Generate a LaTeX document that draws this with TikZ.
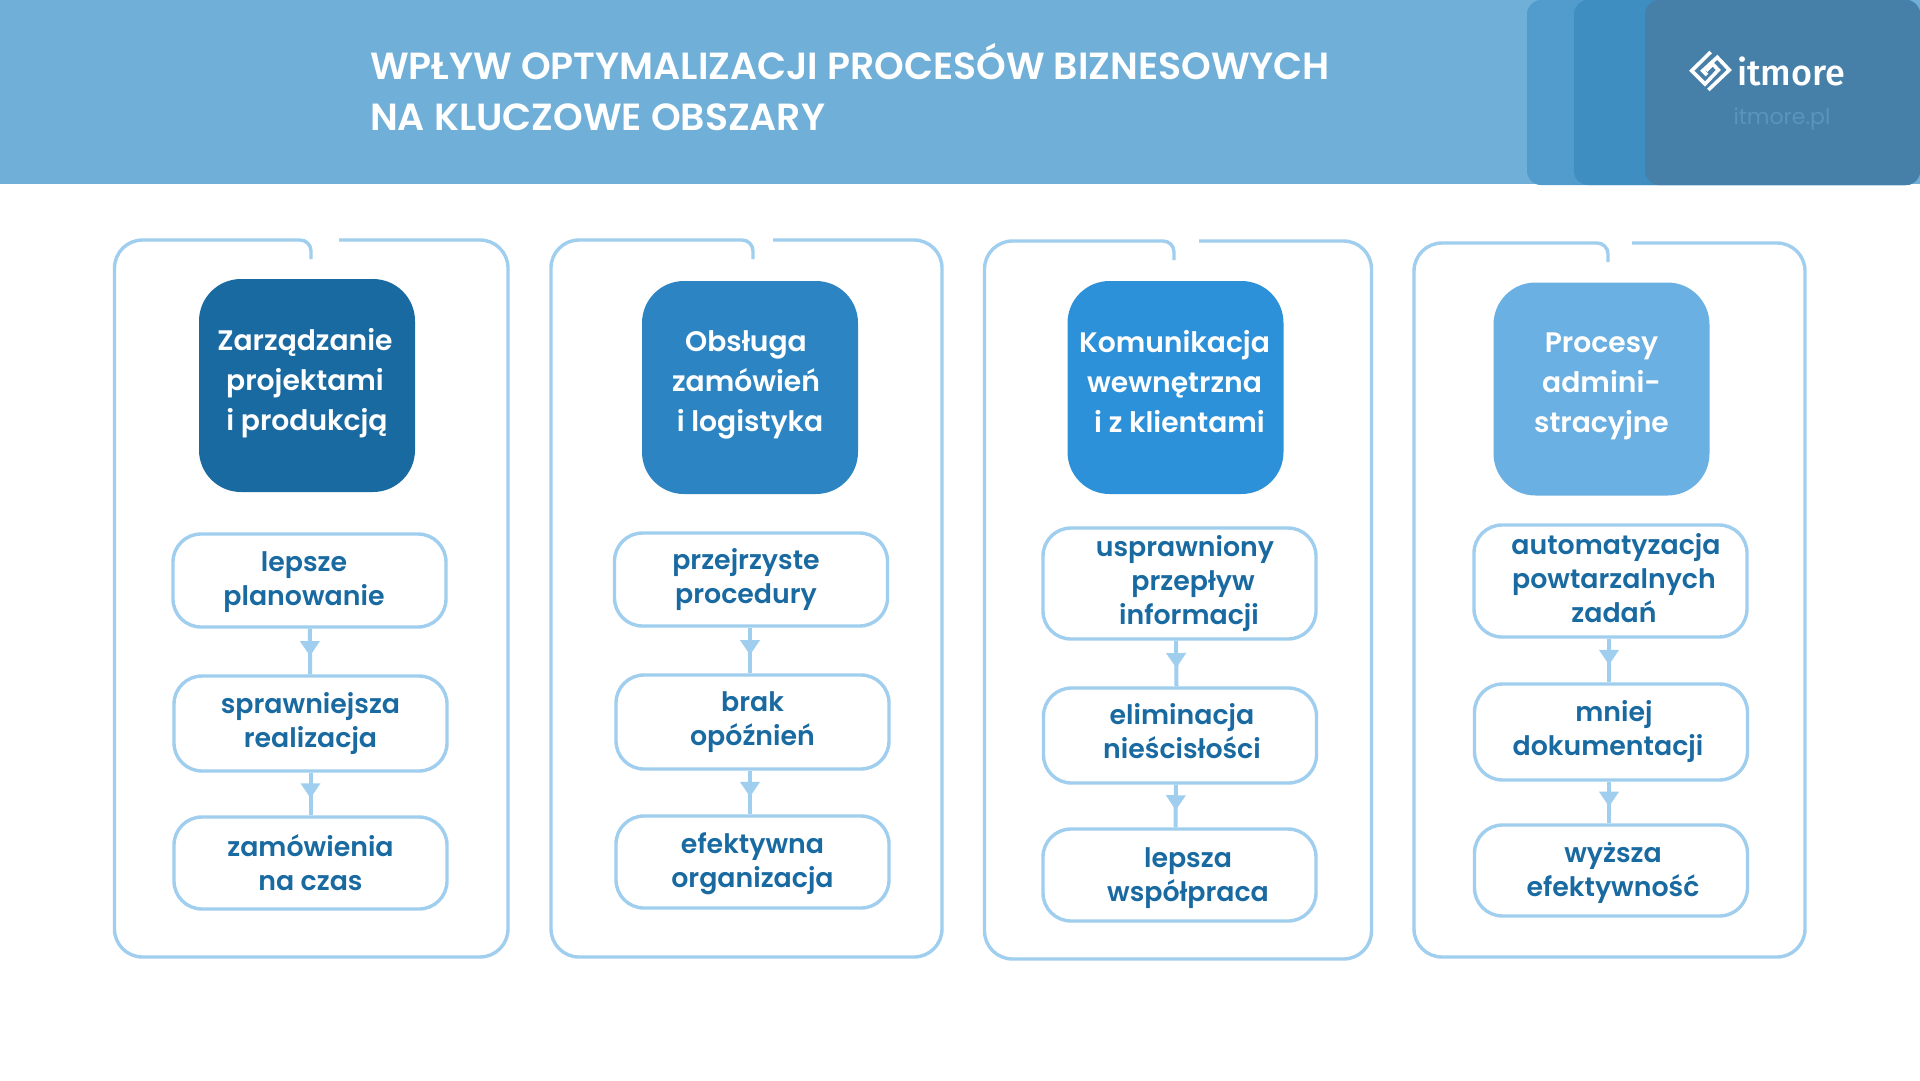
\documentclass[tikz,border=0pt]{standalone}
\usepackage{fontspec}
\setmainfont{Poppins}[BoldFont=* SemiBold]
\newfontfamily\logofont{Fira Sans}[UprightFont=* Medium]
\usetikzlibrary{arrows.meta}
\usetikzlibrary{decorations.markings}
\definecolor{headblue}{HTML}{70B0D8}
\definecolor{layerA}{HTML}{529CCD}
\definecolor{layerB}{HTML}{3E8EC1}
\definecolor{layerC}{HTML}{4680A9}
\definecolor{lineblue}{HTML}{A0CEEE}
\definecolor{textblue}{HTML}{1A6AA2}
\definecolor{siteblue}{HTML}{5A93BC}
\definecolor{headA}{HTML}{1A6AA2}
\definecolor{headB}{HTML}{2C85C2}
\definecolor{headC}{HTML}{2C91D8}
\definecolor{headD}{HTML}{6BB0E2}
\newcommand{\nudge}[1]{\hspace*{#1pt}}
\newcommand{\toph}[1]{\rule{0pt}{#1pt}}
\newcommand{\botd}[1]{\rule[-#1pt]{0pt}{#1pt}}

\begin{document}
\begin{tikzpicture}[x=1pt,y=-1pt]
\tikzstyle{panel} = [draw=lineblue, line width=3.4pt]
\tikzstyle{headbox} = [rectangle, rounded corners=42pt, minimum width=216pt, minimum height=213pt, inner sep=0pt, align=center, text=white, font=\fontsize{28.2}{40}\bfseries\selectfont]
\tikzstyle{itembox} = [rectangle, draw=lineblue, line width=3.4pt, rounded corners=28pt, minimum width=273pt, inner sep=0pt, align=center, text=textblue, font=\fontsize{26.8}{34}\bfseries\selectfont]
\tikzstyle{flow} = [draw=lineblue, line width=4pt, postaction={decorate}, decoration={markings, mark=at position 0.6 with {\arrow[lineblue]{Triangle[width=19pt,length=15pt]}}}]
\tikzstyle{layer} = [rectangle, rounded corners=14pt, minimum height=185pt, inner sep=0pt]

\useasboundingbox (0,0) rectangle (1920,1080);
\fill[white] (0,0) rectangle (1920,1080);
\fill[headblue] (0,0) rectangle (1920,184);

\node[layer, fill=layerA, minimum width=393pt] (layerone) at (1723.5,92.5) {};
\node[layer, fill=layerB, minimum width=346pt] (layertwo) at (1747,92.5) {};
\node[layer, fill=layerC, minimum width=275pt] (layerthree) at (1782.5,92.5) {};

\node[anchor=west, align=left, inner sep=0pt, text=white, font=\fontsize{37.8}{50.5}\bfseries\selectfont] (title) at (370,87) {WPŁYW OPTYMALIZACJI PROCESÓW BIZNESOWYCH\\NA KLUCZOWE OBSZARY};

\draw[white, line width=3.6pt] (1710.7,52) -- (1691.7,70.7) -- (1705,84) -- (1718.3,70) -- (1712.7,64) -- (1706,70.7);
\draw[white, line width=3.6pt] (1708.3,90) -- (1729.3,70) -- (1717.3,57.3) -- (1702.7,70.7) -- (1707,75);
\node[anchor=west, inner sep=0pt, text=white, font=\logofont\fontsize{36}{36}\selectfont] (logo) at (1737,71) {itmore};
\node[text=siteblue, font=\fontsize{22}{22}\selectfont] (site) at (1782,119) {itmore.pl};

\foreach \xl/\xr/\yt/\yb/\gl/\gr in {114.5/508/240/957/311/339, 551/942/240/957/753/773, 984.5/1371.5/241/959/1174/1199, 1414/1805/243/957/1608/1632}
  \draw[panel] (\gl,\yt+19) [rounded corners=11pt] -- (\gl,\yt) [rounded corners=28pt] -- (\xl,\yt) -- (\xl,\yb) -- (\xr,\yb) -- (\xr,\yt) -- (\gr,\yt);

\node[headbox, fill=headA] (zarzadzanie) at (307,385.5) {\nudge{-4}Zarządzanie\\\nudge{-4}projektami\\i produkcją\botd{13}};
\node[headbox, fill=headB] (obsluga) at (750,387.5) {\nudge{-8}Obsługa\\\nudge{-8}zamówień\\i logistyka\botd{13}};
\node[headbox, fill=headC] (komunikacja) at (1175.5,387.5) {\nudge{-2}Komunikacja\\\nudge{-2}wewnętrzna\\\nudge{8}i z klientami\botd{13}};
\node[headbox, fill=headD] (procesy) at (1601.5,389) {Procesy\\admini-\\stracyjne\botd{13}};

\node[itembox, minimum height=93pt] (planowanie) at (309.5,580.5) {\toph{24}\nudge{-11}lepsze\\\nudge{-11}planowanie};
\node[itembox, minimum height=95pt] (realizacja) at (310.5,723.5) {sprawniejsza\\realizacja\botd{8}};
\node[itembox, minimum height=92pt] (naczas) at (310.5,863) {zamówienia\\na czas};

\node[itembox, minimum height=93pt] (procedury) at (751,579.5) {\nudge{-10}przejrzyste\\\nudge{-10}procedury};
\node[itembox, minimum height=94pt] (opoznien) at (752.5,722) {brak\\opóźnień};
\node[itembox, minimum height=92pt] (organizacja) at (752.5,862) {\toph{25}efektywna\\organizacja};

\node[itembox, minimum height=111pt] (przeplyw) at (1179.5,583.5) {\nudge{11}usprawniony\\\nudge{27}przepływ\\\nudge{19}informacji};
\node[itembox, minimum height=95pt] (niescislosci) at (1180,735.5) {\nudge{4}eliminacja\\\nudge{4}nieścisłości\botd{9}};
\node[itembox, minimum height=92pt] (wspolpraca) at (1179.5,875) {\toph{27}\nudge{17}lepsza\\\nudge{17}współpraca};

\node[itembox, minimum height=112pt] (zadania) at (1610.5,581) {\nudge{11}automatyzacja\\\nudge{7}powtarzalnych\\\nudge{7}zadań\botd{7}};
\node[itembox, minimum height=96pt] (dokumentacja) at (1611,732) {\nudge{6}mniej\\\nudge{-6}dokumentacji};
\node[itembox, minimum height=91pt] (efektywnosc) at (1611,870.5) {\toph{24}\nudge{4}wyższa\\\nudge{4}efektywność};

\draw[flow] (planowanie) -- (realizacja);
\draw[flow] (realizacja) -- (naczas);
\draw[flow] ([xshift=-1pt]procedury.south) -- ([xshift=-2.5pt]opoznien.north);
\draw[flow] ([xshift=-2.5pt]opoznien.south) -- ([xshift=-2.5pt]organizacja.north);
\draw[flow] ([xshift=-3.5pt]przeplyw.south) -- ([xshift=-3.5pt]niescislosci.north);
\draw[flow] ([xshift=-4pt]niescislosci.south) -- ([xshift=-4pt]wspolpraca.north);
\draw[flow] ([xshift=-1.5pt]zadania.south) -- ([xshift=-2pt]dokumentacja.north);
\draw[flow] ([xshift=-2pt]dokumentacja.south) -- ([xshift=-2pt]efektywnosc.north);
\end{tikzpicture}
\end{document}
